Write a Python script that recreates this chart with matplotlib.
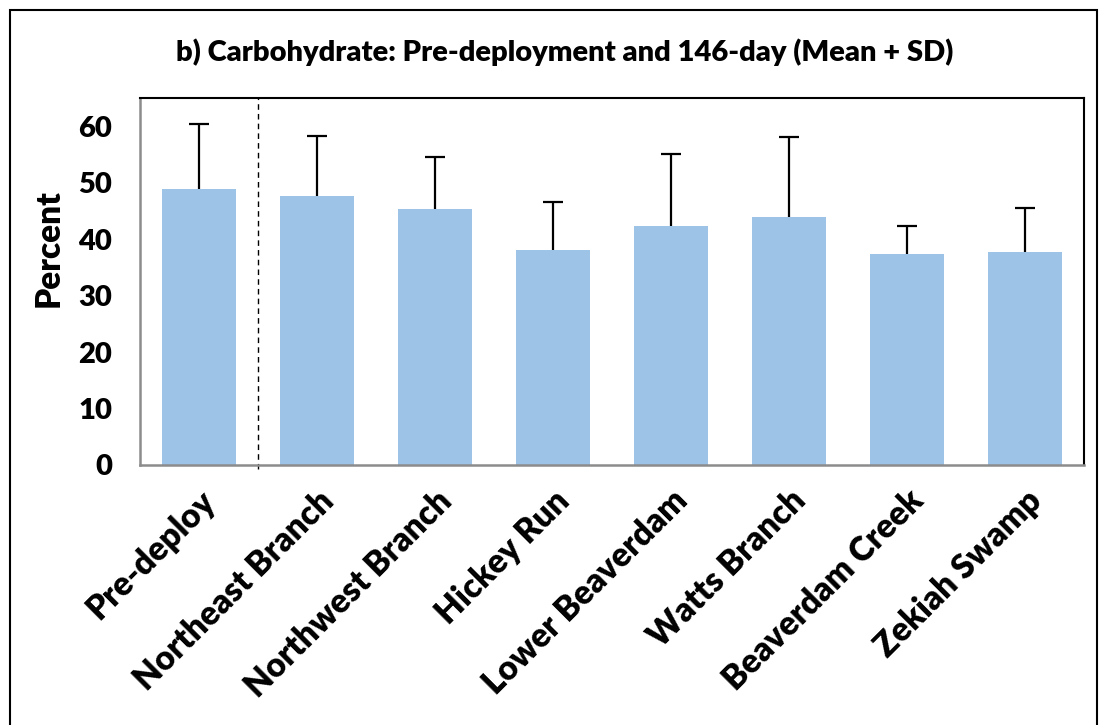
import numpy as np
import matplotlib.pyplot as plt
from matplotlib.patches import Rectangle

plt.rcParams['font.family'] = ['Lato', 'DejaVu Sans']

sites = ['Pre-deploy', 'Northeast Branch', 'Northwest Branch', 'Hickey Run',
         'Lower Beaverdam', 'Watts Branch', 'Beaverdam Creek', 'Zekiah Swamp']
means = [48.9, 47.7, 45.4, 38.1, 42.3, 43.9, 37.3, 37.7]
sds = [11.5, 10.5, 9.2, 8.4, 12.8, 14.2, 5.1, 7.9]
yticks = [0, 10, 20, 30, 40, 50, 60]

fig = plt.figure(figsize=(11, 7.25), dpi=100)
ax = fig.add_axes([140 / 1100, 1 - 465 / 725, 944 / 1100, 367 / 725])

x = np.arange(len(sites))
tops = np.array(means) + np.array(sds)
ax.bar(x, means, width=0.63, color='#9dc3e6', zorder=2)
# upper whisker and cap only (mean + SD)
ax.vlines(x, means, tops, color='black', linewidth=1.6, zorder=3)
ax.hlines(tops, x - 0.085, x + 0.085, color='black', linewidth=1.6, zorder=3)

# separates the pre-deployment bar from the sites
ax.axvline(0.5, ymin=-0.01, ymax=1, color='black', linestyle=(0, (4, 3)),
           linewidth=1, clip_on=False, zorder=1)

ax.set_xlim(-0.5, len(sites) - 0.5)
ax.set_ylim(0, 65)
ax.set_yticks(yticks)
ax.set_yticklabels([str(t) for t in yticks], fontsize=21, fontweight='heavy')
ax.set_xticks(x)
ax.set_xticklabels(sites, rotation=45, ha='right', rotation_mode='anchor',
                   fontsize=24, fontweight='heavy')
ax.tick_params(axis='both', length=0)
ax.tick_params(axis='y', pad=20)
ax.tick_params(axis='x', pad=14)

for side in ['left', 'bottom']:
    ax.spines[side].set_color('#8c8c8c')
    ax.spines[side].set_linewidth(1.8)
for side in ['top', 'right']:
    ax.spines[side].set_color('black')
    ax.spines[side].set_linewidth(1.5)

ax.set_ylabel('Percent', fontsize=24, fontweight='heavy')
ax.yaxis.set_label_coords(-0.08, 0.59)
fig.text(565 / 1100, 1 - 52 / 725,
         'b) Carbohydrate: Pre-deployment and 146-day (Mean + SD)',
         ha='center', va='center', fontsize=21, fontweight='heavy')

# outer frame around the whole chart
fig.patches.append(Rectangle((10 / 1100, -0.1), 1087 / 1100, 1.1 - 10 / 725,
                             transform=fig.transFigure, fill=False,
                             edgecolor='black', linewidth=1.5))

fig.savefig('out.png', dpi=100)
